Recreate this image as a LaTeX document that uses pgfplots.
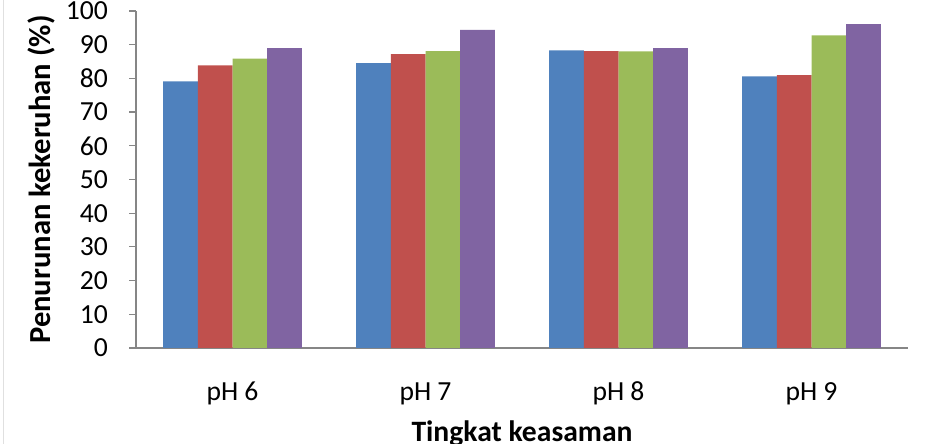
\documentclass[border=0pt]{standalone}
\usepackage{pgfplots}
\pgfplotsset{compat=1.18}
\usepackage{fontspec}
\setmainfont{Carlito}

\definecolor{s1}{HTML}{4F81BD}
\definecolor{s2}{HTML}{C0504D}
\definecolor{s3}{HTML}{9BBB59}
\definecolor{s4}{HTML}{8064A2}
\definecolor{axgray}{HTML}{868686}

\begin{document}
\begin{tikzpicture}
\path[use as bounding box] (0,0) rectangle (462.5bp,222bp);
% faint frame edge on the left
\draw[draw=black!12, line width=0.8bp] (1.8bp,0) -- (1.8bp,222bp);
\begin{axis}[
  at={(68bp,48bp)}, anchor=south west,
  scale only axis, width=386bp, height=168.5bp,
  ybar=0pt, bar width=0.18,
  xmin=-0.5, xmax=3.5, ymin=0, ymax=100,
  axis x line=bottom, axis y line=left,
  axis line style={-, axgray, line width=0.6bp},
  xtick={0,1,2,3},
  xticklabels={pH 6, pH 7, pH 8, pH 9},
  x tick style={draw=none},
  extra x ticks={-0.5,0.5,1.5,2.5,3.5},
  extra x tick labels={},
  extra x tick style={tick style={draw=axgray, line width=0.6bp}, major tick length=5bp, tick align=outside},
  ytick={0,10,...,100},
  y tick style={axgray, line width=0.6bp},
  tick align=outside, major tick length=3.5bp,
  /pgf/number format/assume math mode=true,
  tick label style={font=\fontsize{13.8bp}{15bp}\selectfont, black},
  yticklabel style={anchor=east, xshift=-7bp},
  xticklabel style={anchor=base, yshift=-22.5bp},
  xlabel={Tingkat keasaman},
  xlabel style={font=\fontsize{14.8bp}{16bp}\selectfont\bfseries, at={(axis description cs:0.5,-0.276)}, anchor=base},
  ylabel={Penurunan kekeruhan (\%)},
  ylabel style={font=\fontsize{15.3bp}{17bp}\selectfont\bfseries, at={(axis description cs:-0.122,0.50)}, anchor=center},
]
\addplot[fill=s1, draw=none] coordinates {(0,79.1) (1,84.5) (2,88.3) (3,80.6)};
\addplot[fill=s2, draw=none] coordinates {(0,83.9) (1,87.2) (2,88.1) (3,81.0)};
\addplot[fill=s3, draw=none] coordinates {(0,85.9) (1,88.1) (2,88.0) (3,92.8)};
\addplot[fill=s4, draw=none] coordinates {(0,89.0) (1,94.4) (2,89.0) (3,96.1)};
\end{axis}
\end{tikzpicture}
\end{document}
